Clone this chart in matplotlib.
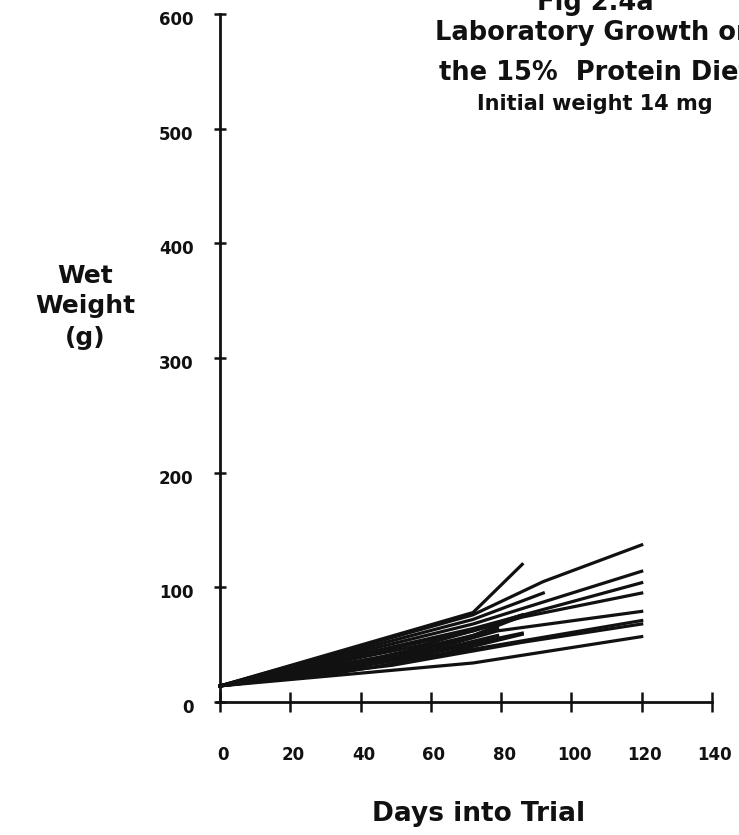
import matplotlib

matplotlib.use("Agg")

import matplotlib.pyplot as plt
from matplotlib.transforms import ScaledTranslation

# growth records: day of weighing and wet weight (g) for each animal
days_list = [
    [0, 72, 86],
    [0, 72, 92, 120],
    [0, 72, 92],
    [0, 72, 120],
    [0, 72, 120],
    [0, 58, 86, 120],
    [0, 72, 86],
    [0, 58, 79, 120],
    [0, 72, 120],
    [0, 49, 86, 120],
    [0, 72, 120],
    [0, 35, 58, 86],
    [0, 49, 79],
    [0, 58, 86],
    [0, 35, 72],
    [0, 44, 72, 86],
    [0, 58, 79],
]
weights_list = [
    [14, 78, 120],
    [14, 76, 105, 137],
    [14, 72, 95],
    [14, 68, 114],
    [14, 64, 104],
    [14, 50, 74, 95],
    [14, 62, 76],
    [14, 44, 62, 79],
    [14, 46, 71],
    [14, 32, 52, 68],
    [14, 34, 57],
    [14, 26, 38, 59],
    [14, 36, 58],
    [14, 42, 60],
    [14, 28, 50],
    [14, 38, 58, 75],
    [14, 46, 64],
]

x_ticks = [0, 20, 40, 60, 80, 100, 120, 140]
y_ticks = [0, 100, 200, 300, 400, 500, 600]

INK = "#111111"

fig = plt.figure(figsize=(7.39, 8.35), dpi=100)
ax = fig.add_axes([213 / 739, 0.1552, 506 / 739, 0.8322])
ax.set_xlim(-2, 142)
ax.set_ylim(-3, 603)

for days, weights in zip(days_list, weights_list):
    ax.plot(days, weights, color=INK, linewidth=2.3)

for side in ("top", "right"):
    ax.spines[side].set_visible(False)
ax.spines["left"].set_position(("data", 0))
ax.spines["bottom"].set_position(("data", 0))
ax.spines["left"].set_bounds(0, 600)
ax.spines["bottom"].set_bounds(-1, 140)
for side in ("left", "bottom"):
    ax.spines[side].set_linewidth(2)
    ax.spines[side].set_color(INK)

ax.set_xticks(x_ticks)
ax.set_yticks(y_ticks)
ax.set_xticklabels([str(v) for v in x_ticks], fontsize=12, fontweight="bold")
ax.set_yticklabels([str(v) for v in y_ticks], fontsize=12, fontweight="bold")
ax.tick_params(axis="x", direction="inout", length=15, width=1.8,
               pad=24, colors=INK)
ax.tick_params(axis="y", direction="inout", length=8, width=1.8,
               pad=15, colors=INK)

# nudge the tick labels a little off their ticks
for lab in ax.get_xticklabels():
    lab.set_transform(lab.get_transform()
                      + ScaledTranslation(0.03, 0, fig.dpi_scale_trans))
for lab in ax.get_yticklabels():
    lab.set_transform(lab.get_transform()
                      + ScaledTranslation(0, -0.04, fig.dpi_scale_trans))

# titles
title_x = 595 / 739
fig.text(title_x, 1 - 10 / 835, "Fig 2.4a", ha="center", va="baseline",
         fontsize=18.5, fontweight="bold", color=INK)
fig.text(title_x, 1 - 40 / 835, "Laboratory Growth on", ha="center",
         va="baseline", fontsize=18.5, fontweight="bold", color=INK)
fig.text(title_x, 1 - 80 / 835, "the 15%  Protein Diet", ha="center",
         va="baseline", fontsize=18.5, fontweight="bold", color=INK)
fig.text(title_x, 1 - 110 / 835, "Initial weight 14 mg", ha="center",
         va="baseline", fontsize=15, fontweight="bold", color=INK)

# y axis label, stacked
for text, base in zip(["Wet", "Weight", "(g)"], [283, 313, 345]):
    fig.text(85 / 739, 1 - base / 835, text, ha="center", va="baseline",
             fontsize=18, fontweight="bold", color=INK)

fig.text(479 / 739, 1 - 821 / 835, "Days into Trial", ha="center",
         va="baseline", fontsize=19, fontweight="bold", color=INK)

fig.savefig("out.png", dpi=100)
plt.close(fig)
